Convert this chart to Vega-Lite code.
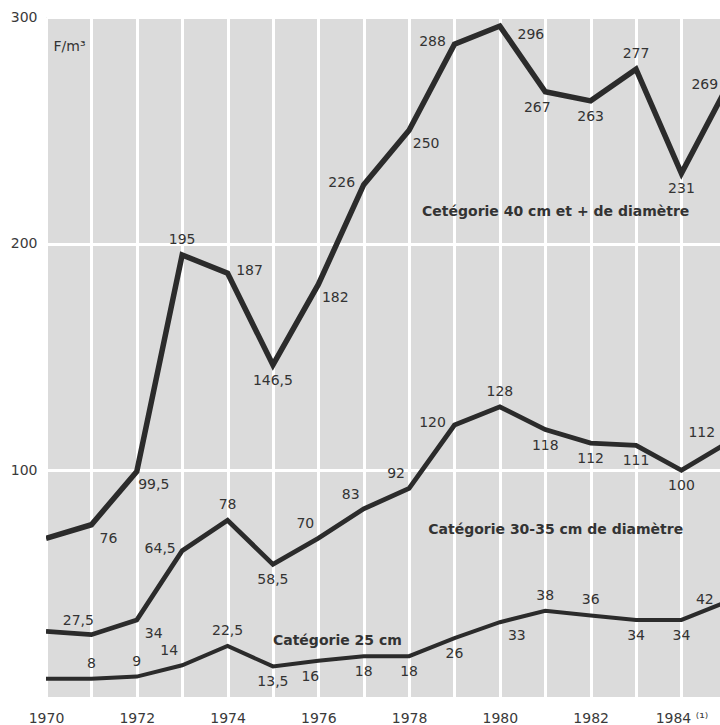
{
  "$schema": "https://vega.github.io/schema/vega-lite/v6.json",
  "width": 674,
  "height": 680,
  "autosize": {"type": "none"},
  "padding": {"left": 46, "top": 17, "right": 0, "bottom": 28},
  "background": "white",
  "config": {
    "view": {"fill": "#dbdbdb", "stroke": null},
    "text": {"font": "DejaVu Sans", "fontSize": 14, "color": "#333333"},
    "axis": {"labelFont": "DejaVu Sans", "labelFontSize": 14, "labelColor": "#3a3a3a", "domain": false, "ticks": false, "gridColor": "white", "gridWidth": 3, "gridOpacity": 1}
  },
  "datasets": {
    "series": [
      {"year": 1970, "v": 70, "s": "a"}, {"year": 1971, "v": 76, "s": "a"}, {"year": 1972, "v": 99.5, "s": "a"}, {"year": 1973, "v": 195, "s": "a"},
      {"year": 1974, "v": 187, "s": "a"}, {"year": 1975, "v": 146.5, "s": "a"}, {"year": 1976, "v": 182, "s": "a"}, {"year": 1977, "v": 226, "s": "a"},
      {"year": 1978, "v": 250, "s": "a"}, {"year": 1979, "v": 288, "s": "a"}, {"year": 1980, "v": 296, "s": "a"}, {"year": 1981, "v": 267, "s": "a"},
      {"year": 1982, "v": 263, "s": "a"}, {"year": 1983, "v": 277, "s": "a"}, {"year": 1984, "v": 231, "s": "a"}, {"year": 1985, "v": 269, "s": "a"},
      {"year": 1970, "v": 29, "s": "b"}, {"year": 1971, "v": 27.5, "s": "b"}, {"year": 1972, "v": 34, "s": "b"}, {"year": 1973, "v": 64.5, "s": "b"},
      {"year": 1974, "v": 78, "s": "b"}, {"year": 1975, "v": 58.5, "s": "b"}, {"year": 1976, "v": 70, "s": "b"}, {"year": 1977, "v": 83, "s": "b"},
      {"year": 1978, "v": 92, "s": "b"}, {"year": 1979, "v": 120, "s": "b"}, {"year": 1980, "v": 128, "s": "b"}, {"year": 1981, "v": 118, "s": "b"},
      {"year": 1982, "v": 112, "s": "b"}, {"year": 1983, "v": 111, "s": "b"}, {"year": 1984, "v": 100, "s": "b"}, {"year": 1985, "v": 112, "s": "b"},
      {"year": 1970, "v": 8, "s": "c"}, {"year": 1971, "v": 8, "s": "c"}, {"year": 1972, "v": 9, "s": "c"}, {"year": 1973, "v": 14, "s": "c"},
      {"year": 1974, "v": 22.5, "s": "c"}, {"year": 1975, "v": 13.5, "s": "c"}, {"year": 1976, "v": 16, "s": "c"}, {"year": 1977, "v": 18, "s": "c"},
      {"year": 1978, "v": 18, "s": "c"}, {"year": 1979, "v": 26, "s": "c"}, {"year": 1980, "v": 33, "s": "c"}, {"year": 1981, "v": 38, "s": "c"},
      {"year": 1982, "v": 36, "s": "c"}, {"year": 1983, "v": 34, "s": "c"}, {"year": 1984, "v": 34, "s": "c"}, {"year": 1985, "v": 42, "s": "c"}
    ],
    "notes": [
      {"year": 1981.23, "v": 213.8, "t": "Cetégorie 40 cm et + de diamètre"},
      {"year": 1981.23, "v": 73.7, "t": "Catégorie 30-35 cm de diamètre"},
      {"year": 1976.42, "v": 24.7, "t": "Catégorie 25 cm"}
    ]
  },
  "encoding": {
    "x": {"field": "year", "type": "quantitative",
      "scale": {"domain": [1970, 1984.85], "nice": false, "zero": false},
      "axis": {"title": null, "values": [1970,1971,1972,1973,1974,1975,1976,1977,1978,1979,1980,1981,1982,1983,1984,1985],
        "labelExpr": "datum.value % 2 == 0 ? (datum.value == 1984 ? '1984 ⁽¹⁾' : datum.value + '') : ''",
        "labelPadding": 14, "labelFlush": false, "labelOverlap": false}},
    "y": {"field": "v", "type": "quantitative",
      "scale": {"domain": [0, 300], "nice": false},
      "axis": {"title": "F/m³", "values": [100, 200, 300], "labelPadding": 9,
        "titleAngle": 0, "titleAlign": "left", "titleBaseline": "alphabetic", "titleX": 7, "titleY": 33,
        "titleFont": "DejaVu Sans", "titleFontSize": 14, "titleFontWeight": "normal", "titleColor": "#333333"}}
  },
  "layer": [
    {
      "data": {"name": "series"},
      "mark": {"type": "line", "color": "#2b2b2b", "clip": true, "strokeJoin": "miter"},
      "encoding": {
        "detail": {"field": "s", "type": "nominal"},
        "strokeWidth": {"field": "s", "type": "nominal", "scale": {"domain": ["a", "b", "c"], "range": [5.5, 4, 2]}, "legend": null}
      }
    },
    {
      "data": {"name": "series"},
      "transform": [
        {"calculate": "datum.s + datum.year", "as": "k"},
        {"calculate": "replace(toString(datum.v), '.', ',')", "as": "lbl"}
      ],
      "layer": [
        {"transform": [{"filter": "indexof(['a1973','a1983','b1974','b1980','c1971','c1972','c1974','c1981','c1982'], datum.k) >= 0"}],
          "mark": {"type": "text", "dx": 0, "dy": -15}, "encoding": {"text": {"field": "lbl"}}},
        {"transform": [{"filter": "indexof(['a1975','a1982','a1984','b1975','b1981','b1982','b1983','b1984','c1975','c1977','c1978','c1979','c1983','c1984'], datum.k) >= 0"}],
          "mark": {"type": "text", "dx": 0, "dy": 16}, "encoding": {"text": {"field": "lbl"}}},
        {"transform": [{"filter": "indexof(['a1974'], datum.k) >= 0"}],
          "mark": {"type": "text", "dx": 22, "dy": -2}, "encoding": {"text": {"field": "lbl"}}},
        {"transform": [{"filter": "indexof(['a1980'], datum.k) >= 0"}],
          "mark": {"type": "text", "dx": 31, "dy": 9}, "encoding": {"text": {"field": "lbl"}}},
        {"transform": [{"filter": "indexof(['a1977','a1979','a1985','b1973','b1979','c1985'], datum.k) >= 0"}],
          "mark": {"type": "text", "dx": -22, "dy": -2}, "encoding": {"text": {"field": "lbl"}}},
        {"transform": [{"filter": "indexof(['b1985'], datum.k) >= 0"}],
          "mark": {"type": "text", "dx": -25, "dy": -10}, "encoding": {"text": {"field": "lbl"}}},
        {"transform": [{"filter": "indexof(['b1971','b1976','b1977','b1978','c1973'], datum.k) >= 0"}],
          "mark": {"type": "text", "dx": -13, "dy": -14}, "encoding": {"text": {"field": "lbl"}}},
        {"transform": [{"filter": "indexof(['a1971','a1972','a1976','a1978','b1972','c1980'], datum.k) >= 0"}],
          "mark": {"type": "text", "dx": 17, "dy": 14}, "encoding": {"text": {"field": "lbl"}}},
        {"transform": [{"filter": "indexof(['a1981','c1976'], datum.k) >= 0"}],
          "mark": {"type": "text", "dx": -8, "dy": 16}, "encoding": {"text": {"field": "lbl"}}}
      ]
    },
    {
      "data": {"name": "notes"},
      "mark": {"type": "text", "font": "DejaVu Sans", "fontWeight": "bold", "fontSize": 14, "color": "#333333", "baseline": "middle"},
      "encoding": {"text": {"field": "t"}}
    }
  ]
}
